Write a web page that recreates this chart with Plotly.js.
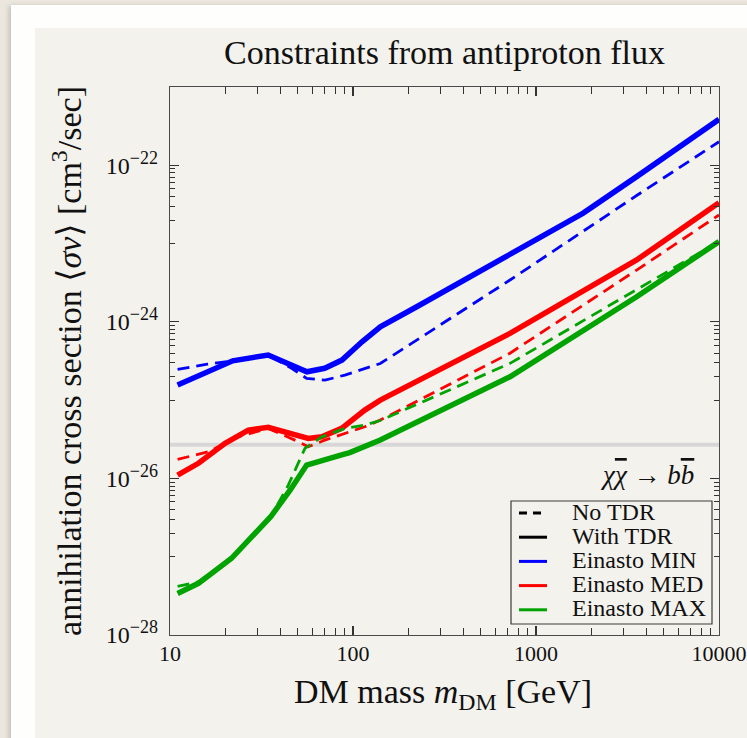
<!DOCTYPE html>
<html>
<head>
<meta charset="utf-8">
<script src="https://cdn.plot.ly/plotly-3.0.1.min.js"></script>
<style>
  html, body { margin: 0; padding: 0; width: 747px; height: 738px; overflow: hidden; background: #ebe7df; }
  #card { position: absolute; left: 11px; top: 5px; width: 760px; height: 760px; background: #fefefd; box-shadow: -2px 1px 5px rgba(0,0,0,0.18); }
  #panel { position: absolute; left: 35px; top: 28px; width: 760px; height: 760px; background: #f4f2ed; }
  #chart { position: absolute; left: 0; top: 0; width: 747px; height: 738px; }
</style>
</head>
<body>
<div id="card"></div>
<div id="panel"></div>
<div id="chart"></div>
<script>
// ---------------- data ----------------
// DM mass [GeV] and <sigma v> [cm^3/s]
const minSolidM = [11, 22, 34.4, 56, 70, 87, 112, 141, 223, 721, 1811, 3548, 10000];
const minSolidV = [1.56e-25, 3.18e-25, 3.77e-25, 2.30e-25, 2.55e-25, 3.25e-25, 5.57e-25, 8.65e-25, 1.56e-24, 7.14e-24, 2.45e-23, 7.16e-23, 3.87e-22];

const minDashM = [11, 16, 22, 34.4, 46.2, 55.8, 70.3, 90.3, 141, 721, 3548, 10000];
const minDashV = [2.47e-25, 2.88e-25, 3.18e-25, 3.77e-25, 2.55e-25, 1.90e-25, 1.80e-25, 2.09e-25, 2.94e-25, 3.42e-24, 4.11e-23, 2.00e-22];

const medSolidM = [11, 14.3, 20, 26.8, 34.4, 57, 67.5, 86.7, 116, 141, 721, 3548, 10000];
const medSolidV = [1.10e-26, 1.56e-26, 2.80e-26, 4.14e-26, 4.49e-26, 3.24e-26, 3.40e-26, 4.37e-26, 7.46e-26, 1.00e-25, 7.11e-25, 6.17e-24, 3.33e-23];

const medDashM = [11, 16.2, 23.6, 34.4, 50.4, 57, 70.3, 116, 141, 721, 3548, 10000];
const medDashV = [1.75e-26, 2.19e-26, 3.40e-26, 4.36e-26, 2.94e-26, 2.54e-26, 3.09e-26, 4.57e-26, 5.56e-26, 3.98e-25, 4.59e-24, 2.32e-23];

const maxSolidM = [11, 14.3, 21.7, 27.4, 35.5, 45.3, 55.8, 86.7, 96, 141, 721, 3548, 10000];
const maxSolidV = [3.39e-28, 4.57e-28, 9.55e-28, 1.70e-27, 3.24e-27, 7.08e-27, 1.48e-26, 2.00e-26, 2.14e-26, 3.09e-26, 1.99e-25, 2.09e-24, 1.06e-23];

const maxDashM = [11, 14.3, 21.7, 27.4, 35.5, 44.3, 54.6, 67.5, 90.3, 116, 141, 721, 3548, 10000];
const maxDashV = [4.17e-28, 4.79e-28, 9.55e-28, 1.70e-27, 3.24e-27, 8.20e-27, 2.42e-26, 3.40e-26, 4.36e-26, 4.79e-26, 5.50e-26, 2.95e-25, 2.57e-24, 1.06e-23];

const relicLevel = 2.7e-26;            // grey horizontal reference line
const xRangeM = [10, 10000];

const seriesNames = ['Einasto MIN', 'Einasto MED', 'Einasto MAX'];
const styleNames = ['No TDR', 'With TDR'];
const xTickVals = [10, 100, 1000, 10000];
const xTickText = ['10', '100', '1000', '10000'];
const yTickVals = [1e-28, 1e-26, 1e-24, 1e-22];
const yTickExp = ['−28', '−26', '−24', '−22'];

// ---------------- styling ----------------
const BLUE = '#0000ff', RED = '#ff0000', GREEN = '#00a300';
const SERIF = 'Liberation Serif, Times New Roman, DejaVu Serif, serif';
const INK = '#111';
const SOLID_W = 5.5, DASH_W = 2.8, DASH = '12px,7px';

function solid(x, y, c) { return {x, y, type: 'scatter', mode: 'lines', showlegend: false, hoverinfo: 'skip', line: {color: c, width: SOLID_W}}; }
function dashed(x, y, c) { return {x, y, type: 'scatter', mode: 'lines', showlegend: false, hoverinfo: 'skip', line: {color: c, width: DASH_W, dash: DASH}}; }

const traces = [
  {x: xRangeM, y: [relicLevel, relicLevel], type: 'scatter', mode: 'lines', showlegend: false, hoverinfo: 'skip', line: {color: '#d7d7d7', width: 4}},
  solid(minSolidM, minSolidV, BLUE),
  solid(medSolidM, medSolidV, RED),
  solid(maxSolidM, maxSolidV, GREEN),
  dashed(minDashM, minDashV, BLUE),
  dashed(medDashM, medDashV, RED),
  dashed(maxDashM, maxDashV, GREEN)
];

// minor ticks
const xMinor = [];
[10, 100, 1000].forEach(d => { for (let k = 2; k <= 9; k++) xMinor.push(k * d); });
const yMinor = [];
[1e-23, 1e-25, 1e-27].forEach(d => { for (let k = 1; k <= 9; k++) yMinor.push(k * d); });
const yTickText = yTickExp.map(e => '10<sup><span style="font-size:18px">' + e + '</span></sup>');

// plot-area geometry (pixels) for placing the hand-made legend
const L = 170, R = 28, T = 87, B = 103, W = 747, H = 738;
const pw = W - L - R, ph = H - T - B;
const px = x => (x - L) / pw;
const py = y => (H - B - y) / ph;

const shapes = [
  {type: 'rect', xref: 'paper', yref: 'paper', x0: px(511), x1: px(712), y0: py(624), y1: py(501),
   line: {color: '#3a3a3a', width: 1.2}, fillcolor: 'rgba(0,0,0,0)'}
];
const annotations = [
  {xref: 'paper', yref: 'paper', x: px(696), y: py(475), xanchor: 'right', yanchor: 'middle', showarrow: false,
   text: '<i>χ<span style="text-decoration:overline">χ</span></i> → <i>b<span style="text-decoration:overline">b</span></i>',
   font: {family: SERIF, size: 27, color: INK}},
  {xref: 'paper', yref: 'paper', x: px(443), y: py(694), xanchor: 'center', yanchor: 'middle', showarrow: false,
   text: 'DM mass <i>m</i><sub>DM</sub> [GeV]', font: {family: SERIF, size: 34, color: INK}}
];
const legendRows = [
  {label: styleNames[0], color: '#000', dash: '8px,6px', w: 3},
  {label: styleNames[1], color: '#000', dash: 'solid', w: 3},
  {label: seriesNames[0], color: BLUE, dash: 'solid', w: 3},
  {label: seriesNames[1], color: RED, dash: 'solid', w: 3},
  {label: seriesNames[2], color: GREEN, dash: 'solid', w: 3}
];
legendRows.forEach((r, i) => {
  const yy = 513 + i * 24.2;
  shapes.push({type: 'line', xref: 'paper', yref: 'paper', x0: px(519), x1: px(547), y0: py(yy), y1: py(yy),
               line: {color: r.color, width: r.w, dash: r.dash}});
  annotations.push({xref: 'paper', yref: 'paper', x: px(570), y: py(yy - 1.5), xanchor: 'left', yanchor: 'middle',
                    showarrow: false, text: r.label, font: {family: SERIF, size: 24, color: INK}});
});

const axisCommon = {
  type: 'log', showgrid: false, zeroline: false, showline: true, linecolor: '#4a4a4a', linewidth: 1.3,
  mirror: 'ticks', ticks: 'inside', ticklen: 9, tickwidth: 1.2, tickcolor: '#333',
  tickfont: {family: SERIF, size: 22, color: INK}, tickmode: 'array'
};

const layout = {
  width: W, height: H,
  margin: {l: L, r: R, t: T, b: B},
  paper_bgcolor: 'rgba(0,0,0,0)', plot_bgcolor: 'rgba(0,0,0,0)',
  showlegend: false,
  title: {text: 'Constraints from antiproton flux', font: {family: SERIF, size: 34, color: INK},
          xref: 'paper', x: 0.5, xanchor: 'center', yref: 'container', y: 1 - 52 / H, yanchor: 'middle'},
  xaxis: Object.assign({}, axisCommon, {
    range: [1, 4], tickvals: xTickVals, ticktext: xTickText, ticklabelstandoff: -2,
    minor: {tickmode: 'array', tickvals: xMinor, ticks: 'inside', ticklen: 7, tickwidth: 1, tickcolor: '#333'}
  }),
  yaxis: Object.assign({}, axisCommon, {
    range: [-28, -21], tickvals: yTickVals, ticktext: yTickText, ticklabelstandoff: 6,
    tickfont: {family: SERIF, size: 24, color: INK},
    minor: {tickmode: 'array', tickvals: yMinor, ticks: 'inside', ticklen: 5, tickwidth: 1, tickcolor: '#333'},
    title: {text: 'annihilation cross section ⟨<i>σv</i>⟩ [cm<sup>3</sup>/sec]', font: {family: SERIF, size: 34, color: INK}, standoff: 13}
  }),
  shapes, annotations
};

Plotly.newPlot('chart', traces, layout, {displayModeBar: false, staticPlot: true});
</script>
</body>
</html>
